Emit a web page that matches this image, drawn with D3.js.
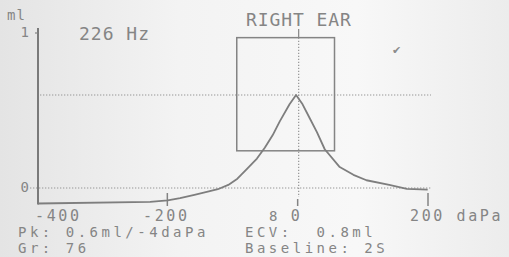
<!DOCTYPE html>
<html>
<head>
<meta charset="utf-8">
<script src="https://cdn.jsdelivr.net/npm/d3@7"></script>
<style>
  html, body { margin: 0; padding: 0; background: #f1f1f1; }
  text { font-family: "DejaVu Sans Mono", "Liberation Mono", monospace; fill: #858585; white-space: pre; }
</style>
</head>
<body>
<div class="board"></div>
<script>
// tympanogram, pressure in daPa, compliance in ml
var pressure = [-400, -228, -201, -182, -160, -141, -124, -108, -94, -80, -64, -52, -40, -29, -14, -4, 6, 17, 28, 40, 63, 84, 104, 139, 166, 198];
var compliance = [-0.10, -0.09, -0.08, -0.066, -0.045, -0.025, -0.008, 0.02, 0.06, 0.12, 0.19, 0.26, 0.34, 0.43, 0.54, 0.60, 0.54, 0.45, 0.36, 0.25, 0.135, 0.085, 0.05, 0.02, -0.005, -0.01];
var xTicks = [-400, -200, 0, 200];
var xTickLabels = ['-400', '-200', '0', '200 daPa'];
var yTicks = [0, 1];
var yTickLabels = ['0', '1'];
var boxPressure = [-95, 55];
var boxCompliance = [0.24, 0.97];
var peakLevel = 0.6;
var infoLeft = ['Pk: 0.6ml/-4daPa', 'Gr: 76'];
var infoRight = ['ECV:  0.8ml', 'Baseline: 2S'];

var w = 509, h = 257;
var svg = d3.select('.board')
    .append('svg')
    .attr('width', w)
    .attr('height', h);

var grad = svg.append('defs').append('linearGradient')
    .attr('id', 'paper');
grad.append('stop').attr('offset', '0%').attr('stop-color', '#e4e4e4');
grad.append('stop').attr('offset', '35%').attr('stop-color', '#f3f3f3');
grad.append('stop').attr('offset', '70%').attr('stop-color', '#f8f8f8');
grad.append('stop').attr('offset', '100%').attr('stop-color', '#ececec');
svg.append('rect')
    .attr('width', w).attr('height', h)
    .style('fill', 'url(#paper)');

var x = d3.scaleLinear().domain([-400, 200]).range([38, 429]);
var y = d3.scaleLinear().domain([0, 1]).range([188, 33]);

var ink = '#848484';

// dotted reference lines (zero and peak level)
svg.selectAll('line.hdot')
    .data([0, peakLevel])
    .enter()
    .append('line')
    .attr('x1', function(d){ return d === 0 ? 30 : x(-400) + 2; })
    .attr('x2', 431)
    .attr('y1', function(d){ return y(d); })
    .attr('y2', function(d){ return y(d); })
    .style('stroke', '#959595')
    .style('stroke-width', 1.2)
    .style('stroke-dasharray', '1.3,1.7');

// normal range box
svg.append('rect')
    .attr('x', x(boxPressure[0]))
    .attr('y', y(boxCompliance[1]))
    .attr('width', x(boxPressure[1]) - x(boxPressure[0]))
    .attr('height', y(boxCompliance[0]) - y(boxCompliance[1]))
    .style('fill', 'none')
    .style('stroke', ink)
    .style('stroke-width', 1.5);

// 0 daPa vertical
svg.append('line')
    .attr('x1', x(0)).attr('x2', x(0))
    .attr('y1', 29).attr('y2', y(boxCompliance[1]))
    .style('stroke', ink).style('stroke-width', 1.2);
svg.append('line')
    .attr('x1', x(0)).attr('x2', x(0))
    .attr('y1', y(boxCompliance[1])).attr('y2', 197)
    .style('stroke', '#959595').style('stroke-width', 1.2)
    .style('stroke-dasharray', '1.3,1.7');

// y axis
svg.append('line')
    .attr('x1', x(-400)).attr('x2', x(-400))
    .attr('y1', 28).attr('y2', y(-0.1) + 1)
    .style('stroke', '#7a7a7a').style('stroke-width', 2);
svg.append('line')
    .attr('x1', x(-400) - 3).attr('x2', x(-400))
    .attr('y1', y(1)).attr('y2', y(1))
    .style('stroke', ink).style('stroke-width', 1.2);

// x ticks
svg.selectAll('line.xtick')
    .data(xTicks.slice(1))
    .enter()
    .append('line')
    .attr('x1', function(d){ return x(d) - 1; })
    .attr('x2', function(d){ return x(d) - 1; })
    .attr('y1', function(d){ return d === 0 ? 199 : 193; })
    .attr('y2', 206)
    .style('stroke', ink)
    .style('stroke-width', 1.5);

// curve
var line = d3.line()
    .x(function(d){ return x(d[0]); })
    .y(function(d){ return y(d[1]); });
svg.append('path')
    .datum(d3.zip(pressure, compliance))
    .attr('d', line)
    .style('fill', 'none')
    .style('stroke', '#7e7e7e')
    .style('stroke-width', 1.8)
    .style('stroke-linejoin', 'round');

// y labels
svg.append('text')
    .attr('x', 7).attr('y', 20)
    .style('font-size', '14px')
    .style('letter-spacing', '1px')
    .text('ml');
svg.selectAll('text.ylab')
    .data(yTicks)
    .enter()
    .append('text')
    .attr('x', 29)
    .attr('y', function(d){ return y(d) + 4; })
    .attr('text-anchor', 'end')
    .style('font-size', '14px')
    .text(function(d, i){ return yTickLabels[i]; });

// x labels
svg.selectAll('text.xlab')
    .data(xTicks)
    .enter()
    .append('text')
    .attr('x', function(d, i){
        if(i === 0) return x(d) - 3;
        if(i === xTicks.length - 1) return x(d) - 19;
        return x(d) - 2;
    })
    .attr('y', 221)
    .attr('text-anchor', function(d, i){
        return (i === 0 || i === xTicks.length - 1) ? 'start' : 'middle';
    })
    .style('font-size', '15px')
    .style('letter-spacing', '2.6px')
    .text(function(d, i){ return xTickLabels[i]; });

// overstruck glyph left of 0
svg.append('text')
    .attr('x', 269).attr('y', 221)
    .style('font-size', '14px')
    .text('8');

// headings
svg.append('text')
    .attr('x', 79).attr('y', 40)
    .style('font-size', '18px')
    .style('letter-spacing', '1px')
    .text('226 Hz');
svg.append('text')
    .attr('x', 246).attr('y', 26)
    .style('font-size', '18px')
    .style('letter-spacing', '0.9px')
    .text('RIGHT EAR');
svg.append('text')
    .attr('x', 392).attr('y', 54)
    .style('font-size', '11px')
    .style('font-family', 'DejaVu Sans')
    .style('fill', '#8c8c8c')
    .text('\u2714');

// results
svg.selectAll('text.infoL')
    .data(infoLeft)
    .enter()
    .append('text')
    .attr('x', 18)
    .attr('y', function(d, i){ return 237 + i * 16; })
    .style('font-size', '14px')
    .style('letter-spacing', '3.5px')
    .text(function(d){ return d; });
svg.selectAll('text.infoR')
    .data(infoRight)
    .enter()
    .append('text')
    .attr('x', 245)
    .attr('y', function(d, i){ return 237 + i * 16; })
    .style('font-size', '14px')
    .style('letter-spacing', '3.5px')
    .text(function(d){ return d; });
</script>
</body>
</html>
